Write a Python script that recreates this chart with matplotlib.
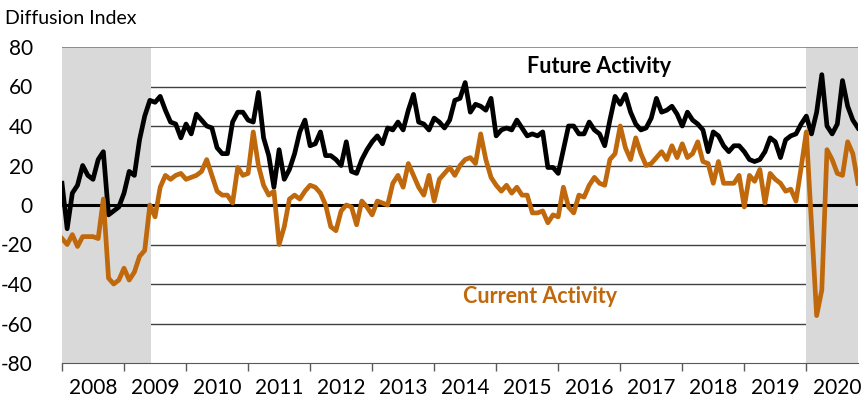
import matplotlib.pyplot as plt
import numpy as np

# Monthly diffusion index, Jan 2008 - Nov 2020
future = [
    11, -12, 6, 10, 20, 15, 13, 23, 27, -5, -3, -1,      # 2008
    6, 17, 15, 33, 45, 53, 52, 55, 48, 42, 41, 34,       # 2009
    41, 36, 46, 43, 40, 39, 29, 26, 26, 42, 47, 47,      # 2010
    43, 42, 57, 34, 25, 9, 28, 13, 18, 26, 37, 43,       # 2011
    30, 31, 37, 25, 25, 23, 20, 32, 17, 16, 23, 28,      # 2012
    32, 35, 31, 39, 38, 42, 38, 48, 56, 42, 41, 38,      # 2013
    44, 42, 39, 43, 53, 54, 62, 47, 51, 50, 48, 54,      # 2014
    35, 38, 39, 38, 43, 39, 35, 36, 35, 37, 19, 19,      # 2015
    16, 28, 40, 40, 36, 36, 42, 38, 36, 30, 43, 55,      # 2016
    51, 56, 47, 41, 38, 39, 44, 54, 47, 48, 50, 46,      # 2017
    40, 47, 43, 41, 38, 27, 37, 35, 30, 27, 30, 30,      # 2018
    27, 23, 22, 23, 27, 34, 32, 24, 33, 35, 36, 41,      # 2019
    45, 36, 47, 66, 40, 36, 41, 63, 50, 43, 39,          # 2020
]
current = [
    -17, -20, -15, -21, -16, -16, -16, -17, 3, -37, -40, -38,
    -32, -38, -34, -26, -23, 0, -6, 9, 15, 13, 15, 16,
    13, 14, 15, 17, 23, 15, 7, 5, 5, 1, 19, 15,
    16, 37, 20, 10, 5, 7, -20, -11, 3, 5, 3, 7,
    10, 9, 6, 0, -11, -13, -3, 0, -1, -10, 2, -1,
    -5, 2, 1, 0, 11, 15, 9, 21, 15, 9, 5, 15,
    2, 13, 16, 19, 15, 20, 23, 24, 21, 36, 23, 14,
    10, 7, 10, 6, 9, 5, 5, -4, -4, -3, -9, -5,
    -6, 9, -1, -4, 5, 4, 10, 14, 11, 10, 23, 26,
    40, 29, 23, 34, 26, 20, 21, 24, 27, 23, 30, 24,
    31, 24, 26, 32, 22, 21, 11, 22, 11, 11, 11, 15,
    -1, 15, 12, 18, 1, 16, 13, 11, 7, 8, 2, 19,
    37, -10, -56, -43, 28, 23, 16, 15, 32, 26, 11,
]
years = list(range(2008, 2021))
recessions = [(0, 17.2), (144, 154.3)]  # month index ranges

orange = '#C0680C'
plt.rcParams['font.family'] = ['Lato', 'DejaVu Sans']
plt.rcParams['axes.unicode_minus'] = False

fig = plt.figure(figsize=(8.63, 4.04), dpi=100)
ax = fig.add_axes([62 / 863, 1 - 363 / 404, 796 / 863, 316 / 404])

x = np.arange(len(future))

for lo, hi in recessions:
    ax.axvspan(lo, hi, color='#D9D9D9', lw=0, zorder=1)
for g in [60, 40, 20, -20, -40, -60]:
    ax.axhline(g, color='#404040', lw=1, zorder=0)
ax.axhline(80, color='#808080', lw=1.2, zorder=3)
ax.axhline(0, color='black', lw=2.2, zorder=3)

ax.plot(x, future, color='black', lw=3.4, zorder=4, solid_joinstyle='round')
ax.plot(x, current, color=orange, lw=3.4, zorder=4, solid_joinstyle='round')

ax.text(104, 70, 'Future Activity', fontsize=15.5, fontweight='bold',
        color='black', ha='center', va='center')
ax.text(92.5, -46.5, 'Current Activity', fontsize=15.5, fontweight='bold',
        color=orange, ha='center', va='center')

ax.set_xlim(0, 154)
ax.set_ylim(-80, 80)
ax.set_yticks(range(-80, 81, 20))
ax.tick_params(axis='y', length=0, pad=21, labelsize=15)

ax.set_xticks([12 * k for k in range(13)])
ax.set_xticklabels([])
ax.set_xticks([12 * k + 6 for k in range(13)], minor=True)
ax.set_xticklabels([str(y) for y in years], minor=True)
ax.tick_params(axis='x', which='major', direction='out', length=6,
               color='#595959', width=1)
ax.tick_params(axis='x', which='minor', length=0, pad=11, labelsize=15)

for s in ['top', 'right', 'left']:
    ax.spines[s].set_visible(False)
ax.spines['bottom'].set_color('#595959')
ax.spines['bottom'].set_zorder(5)

fig.text(5 / 863, 1 - 18 / 404, 'Diffusion Index', fontsize=14,
         ha='left', va='center')

fig.savefig('out.png', dpi=100)
